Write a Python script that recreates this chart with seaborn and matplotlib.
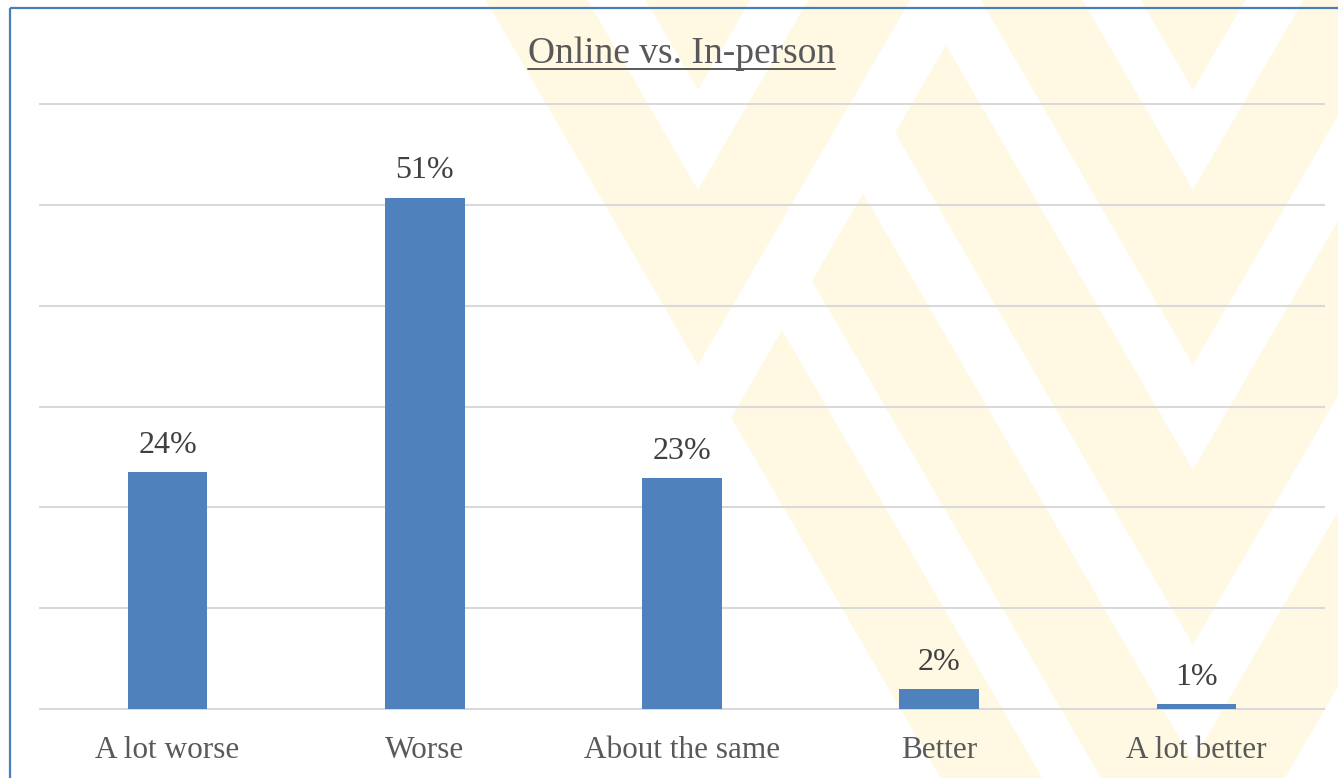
import matplotlib
matplotlib.use("Agg")
import matplotlib.pyplot as plt
import pandas as pd
import seaborn as sns
from matplotlib.patches import Polygon, Rectangle
from matplotlib.lines import Line2D


# ---------------- DATA ----------------
categories = ["A lot worse", "Worse", "About the same", "Better", "A lot better"]
shares = [23.5, 50.7, 22.9, 2.0, 0.5]
share_labels = ["24%", "51%", "23%", "2%", "1%"]
chart_title = "Online vs. In-person"


# ---------------- STYLE ----------------
W, H = 1338, 778
BAR_BLUE = "#4F81BD"
GRID_GREY = "#D9D9D9"
TEXT_GREY = "#595959"
LABEL_GREY = "#404040"
MARK_YELLOW = "#FFF8E3"
SLOPE = 1.72

sns.set_theme(style="white")
plt.rcParams["font.family"] = ["Liberation Serif", "DejaVu Serif"]


# ---------------- WATERMARK (background W logo) ----------------
def full_arm(cx, up, low, side, top=-80):
    return [(cx, up), (cx + side * (up - top) / SLOPE, top),
            (cx + side * (low - top) / SLOPE, top), (cx, low)]


def capped_left_arm(cx, up, low, tip_x):
    tip_y = up - SLOPE * (cx - tip_x)
    xm = (tip_y + SLOPE * tip_x - low + SLOPE * cx) / (2 * SLOPE)
    ym = low - SLOPE * (cx - xm)
    return [(cx, up), (tip_x, tip_y), (xm, ym), (cx, low)]


def draw_watermark(bg):
    shapes = []
    for cx in (698, 1193):
        for up, low in [(-85, 90), (190, 365)]:
            shapes.append(full_arm(cx, up, low, -1))
            shapes.append(full_arm(cx, up, low, 1))
    for up, low, tip in [(470, 645, 946), (761, 936, 863), (1037, 1212, 782)]:
        shapes.append(capped_left_arm(1193, up, low, tip))
        shapes.append(full_arm(1193, up, low, 1))
    for pts in shapes:
        bg.add_patch(Polygon(pts, closed=True, facecolor=MARK_YELLOW,
                             edgecolor="none"))


# ---------------- PLOT ----------------
fig = plt.figure(figsize=(W / 100, H / 100), dpi=100, facecolor="white")

bg = fig.add_axes([0, 0, 1, 1], zorder=0)
bg.set_xlim(0, W)
bg.set_ylim(H, 0)
bg.axis("off")
draw_watermark(bg)
bg.add_patch(Rectangle((10, 8), W + 20, H + 20, facecolor="none",
                       edgecolor="#4A7EBB", linewidth=1.6))

ax = fig.add_axes([39 / W, (H - 710) / H, (1325 - 39) / W, (710 - 103) / H],
                  zorder=1)
ax.patch.set_alpha(0)

df = pd.DataFrame({"category": categories, "share": shares})
sns.barplot(data=df, x="category", y="share", color=BAR_BLUE, saturation=1,
            width=0.31, linewidth=0, ax=ax)

ax.set_xlim(-0.5, len(categories) - 0.5)
ax.set_ylim(-0.08, 60.08)
ax.set_yticks(range(0, 61, 10))
ax.set_yticklabels([])
ax.yaxis.grid(True, color=GRID_GREY, linewidth=1.5)
ax.set_axisbelow(True)
for s in ax.spines.values():
    s.set_visible(False)
ax.set_xlabel("")
ax.set_ylabel("")
ax.tick_params(axis="y", length=0)
ax.tick_params(axis="x", length=0, pad=19, labelsize=22.5,
               labelcolor=TEXT_GREY)

for bar, lab in zip(ax.patches, share_labels):
    ax.annotate(lab, (bar.get_x() + bar.get_width() / 2, bar.get_height()),
                xytext=(0, 14), textcoords="offset points", ha="center",
                va="baseline", fontsize=23, color=LABEL_GREY)

# title with underline
t = fig.text(681.5 / W, 1 - 63 / H, chart_title, ha="center", va="baseline",
             fontsize=27, color=TEXT_GREY)
fig.canvas.draw()
bb = t.get_window_extent()
uy = 1 - 69 / H
fig.add_artist(Line2D([bb.x0 / W, bb.x1 / W], [uy, uy], color=TEXT_GREY,
                      linewidth=1.4, transform=fig.transFigure))

fig.savefig("out.png", dpi=100, facecolor="white")
